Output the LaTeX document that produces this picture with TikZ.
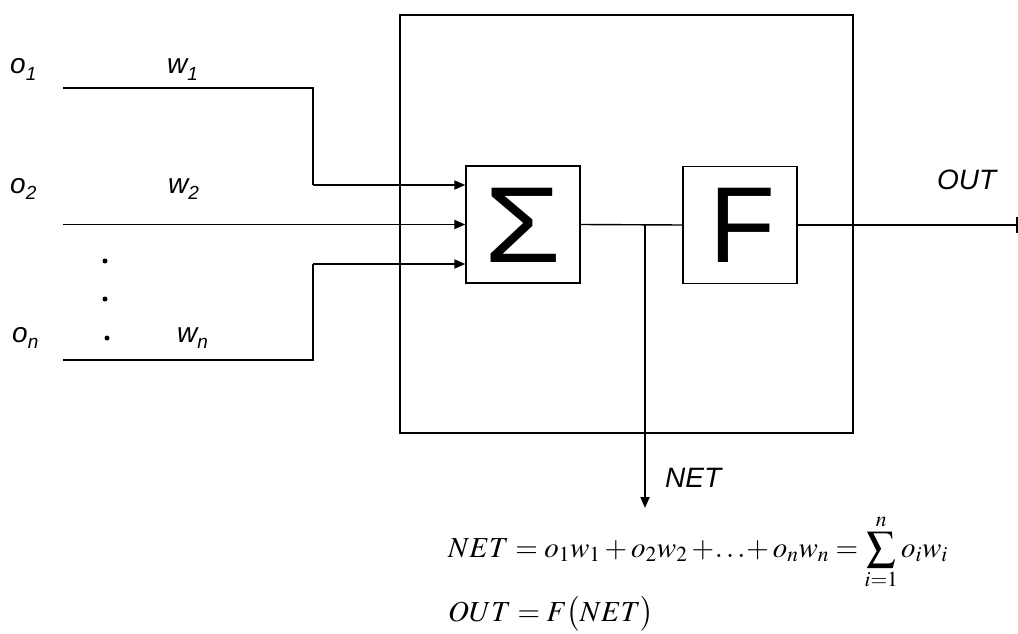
\documentclass[tikz,border=0pt]{standalone}
\usepackage{mathptmx}
\usepackage[no-math]{fontspec}
\setmainfont{Liberation Serif}
\setsansfont{Liberation Sans}
\usetikzlibrary{arrows.meta,calc}
\newcommand\lbl[2]{#1\raisebox{-0.22em}{\fontsize{19}{19}\selectfont #2}}
\tikzset{
  wire/.style={line width=1.8pt},
  arr/.style={wire,-{Triangle[length=11pt,width=9pt]}},
  block/.style={draw,line width=1.4pt,minimum width=114pt,minimum height=117pt,inner sep=0pt},
  bigbox/.style={draw,line width=1.4pt,minimum width=453pt,minimum height=418pt,inner sep=0pt},
  lab/.style={font=\fontsize{28}{28}\selectfont\sffamily\itshape,anchor=base west,inner sep=0pt},
  sym/.style={font=\fontsize{108}{108}\selectfont\sffamily,inner sep=0pt},
  eq/.style={font=\fontsize{29}{29}\selectfont,anchor=base west,inner sep=0pt},
  dotm/.style={circle,fill,inner sep=0pt,minimum size=5pt}
}
\begin{document}
\begin{tikzpicture}[x=1pt,y=-1pt]
\useasboundingbox (0,0) rectangle (1018,634);
% big box
\node[bigbox] (big) at (626.5,224) {};
% blocks
\node[block] (sig) at (523,224.5) {};
\node[block] (F) at (740,225) {};
\node[sym] (sigt) at (523,225) {\scalebox{1.15}[1]{Σ}};
\node[sym] (Ft) at (742,225) {F};
% inputs
\coordinate (o1s) at (63,88);
\coordinate (o2s) at (63,224.5);
\coordinate (ons) at (63,360);
\coordinate (c1) at (313,185);
\coordinate (cn) at (313,264);
\draw[wire] (o1s) -| (c1);
\draw[arr] (c1) -- (c1 -| sig.west);
\draw[arr] (o2s) -- (o2s -| sig.west);
\draw[wire] (ons) -| (cn);
\draw[arr] (cn) -- (cn -| sig.west);
% labels
\node[lab] (lo1) at (10,74) {\lbl{o}{1}};
\node[lab] (lw1) at (167,74) {\lbl{w}{1}};
\node[lab] (lo2) at (10,193) {\lbl{o}{2}};
\node[lab] (lw2) at (168,193) {\lbl{w}{2}};
\node[lab] (lon) at (12,342) {\lbl{o}{n}};
\node[lab] (lwn) at (177,342) {\lbl{w}{n}};
\node[dotm] (d1) at (105,261) {};
\node[dotm] (d2) at (105,299) {};
\node[dotm] (d3) at (107,338) {};
% sum -> F
\draw[wire,line width=1.4pt] (sig.east) -- (F.west);
\coordinate (jn) at (645,225);
\coordinate (netend) at (645,508);
\draw[arr] (jn) -- (netend);
\node[lab] (net) at (665,487) {NET};
% output
\coordinate (outend) at (1017,225);
\draw[wire] (F.east) -- (outend);
\draw[wire] ($(outend)+(0,-8)$) -- ($(outend)+(0,8)$);
\node[lab] (out) at (937,189) {OUT};
% equations
\node[eq] (eq1) at (448,557) {$NET = o_1w_1 + o_2w_2 +\!\ldots\!+ o_nw_n = \displaystyle\sum_{i=1}^{n} o_iw_i$};
\node[eq] (eq2) at (448,621) {$OUT = F\bigl(NET\bigr)$};
\end{tikzpicture}
\end{document}
